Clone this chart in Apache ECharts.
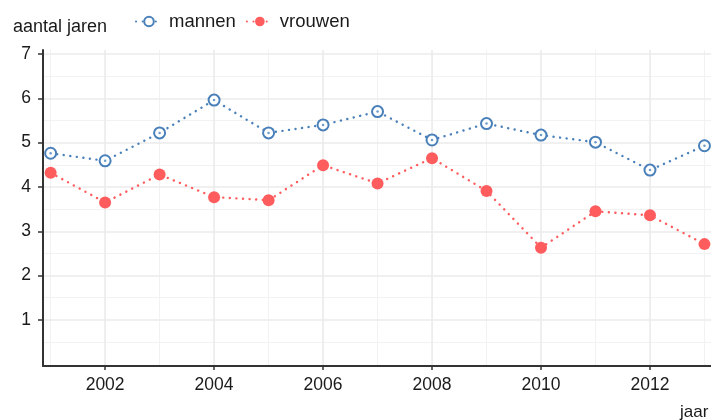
<!DOCTYPE html>
<html><head><meta charset="utf-8">
<script src="https://cdn.jsdelivr.net/npm/echarts@6/dist/echarts.min.js"></script>
<style>html,body{margin:0;padding:0;background:#fff}#c{width:711px;height:420px}</style>
</head><body><div id="c"></div>
<script>
const years = [2001,2002,2003,2004,2005,2006,2007,2008,2009,2010,2011,2012,2013];
const mannen = [4.76,4.59,5.22,5.96,5.22,5.40,5.70,5.06,5.43,5.17,5.01,4.38,4.93];
const vrouwen = [4.32,3.65,4.28,3.77,3.70,4.49,4.08,4.65,3.91,2.63,3.45,3.36,2.71];
const xTickLabels = [2002,2004,2006,2008,2010,2012];
const yTickLabels = [1,2,3,4,5,6,7];
const yMinor = [0.5,1.5,2.5,3.5,4.5,5.5,6.5];

const blue = '#4A80BA', red = '#FF5C5E';
const pairs = a => years.map((y,i)=>[y,a[i]]);
const font = 'Liberation Sans';
const txt = '#1a1a1a';
const chart = echarts.init(document.getElementById('c'));
const xBase = {type:'value', min:2000.86, max:2013.12};
const yBase = {type:'value', min:-0.04, max:7.09};
chart.setOption({
  animation:false,
  textStyle:{fontFamily:font},
  grid:{left:43,right:0,top:50,bottom:54},
  legend:{
    data:['mannen','vrouwen'], left:130, top:7, itemWidth:26, itemHeight:12, itemGap:10,
    textStyle:{fontSize:18.5,color:txt,fontFamily:font,padding:[0,0,0,2]}
  },
  graphic:[
    {type:'text', left:13, top:18, style:{text:'aantal jaren', fontSize:18, fill:txt, fontFamily:font}},
    {type:'text', left:680, top:404, style:{text:'jaar', fontSize:17, fill:txt, fontFamily:font}}
  ],
  xAxis:[
    Object.assign({}, xBase, {
      axisLine:{show:true, onZero:false, lineStyle:{color:'#333',width:2}},
      axisTick:{show:true, length:4, lineStyle:{color:'#333',width:1.5}, customValues:xTickLabels},
      axisLabel:{customValues:xTickLabels, formatter:v=>String(v), fontSize:17.5, color:txt, margin:10, fontFamily:font},
      splitLine:{show:true, lineStyle:{color:'#EBEBEB', width:1.5}},
      z:3
    }),
    Object.assign({}, xBase, {
      axisLine:{show:false}, axisTick:{show:false, customValues:years},
      axisLabel:{show:false, customValues:years},
      splitLine:{show:true, lineStyle:{color:'#F2F2F2', width:1}}
    })
  ],
  yAxis:[
    Object.assign({}, yBase, {
      axisLine:{show:true, onZero:false, lineStyle:{color:'#333',width:2}},
      axisTick:{show:true, length:5, lineStyle:{color:'#333',width:1.5}, customValues:yTickLabels},
      axisLabel:{customValues:yTickLabels, formatter:v=>String(v), fontSize:17.5, color:txt, margin:12, fontFamily:font},
      splitLine:{show:true, lineStyle:{color:'#EBEBEB', width:1.5}},
      z:3
    }),
    Object.assign({}, yBase, {
      axisLine:{show:false}, axisTick:{show:false, customValues:yMinor},
      axisLabel:{show:false, customValues:yMinor},
      splitLine:{show:true, lineStyle:{color:'#F2F2F2', width:1}}
    })
  ],
  series:[
    {name:'mannen', type:'line', data:pairs(mannen), symbol:'emptyCircle', symbolSize:11,
     itemStyle:{color:blue, borderWidth:1.2},
     lineStyle:{color:blue, width:2.4, type:[0.1,6.5], cap:'round'}, z:3},
    {name:'vrouwen', type:'line', data:pairs(vrouwen), symbol:'circle', symbolSize:12,
     itemStyle:{color:red},
     lineStyle:{color:red, width:2.4, type:[0.1,6.5], cap:'round'}, z:3},
    {name:'mannenDot', type:'scatter', data:pairs(mannen), symbol:'circle', symbolSize:2.5,
     itemStyle:{color:blue}, silent:true, z:4}
  ]
});
</script></body></html>
